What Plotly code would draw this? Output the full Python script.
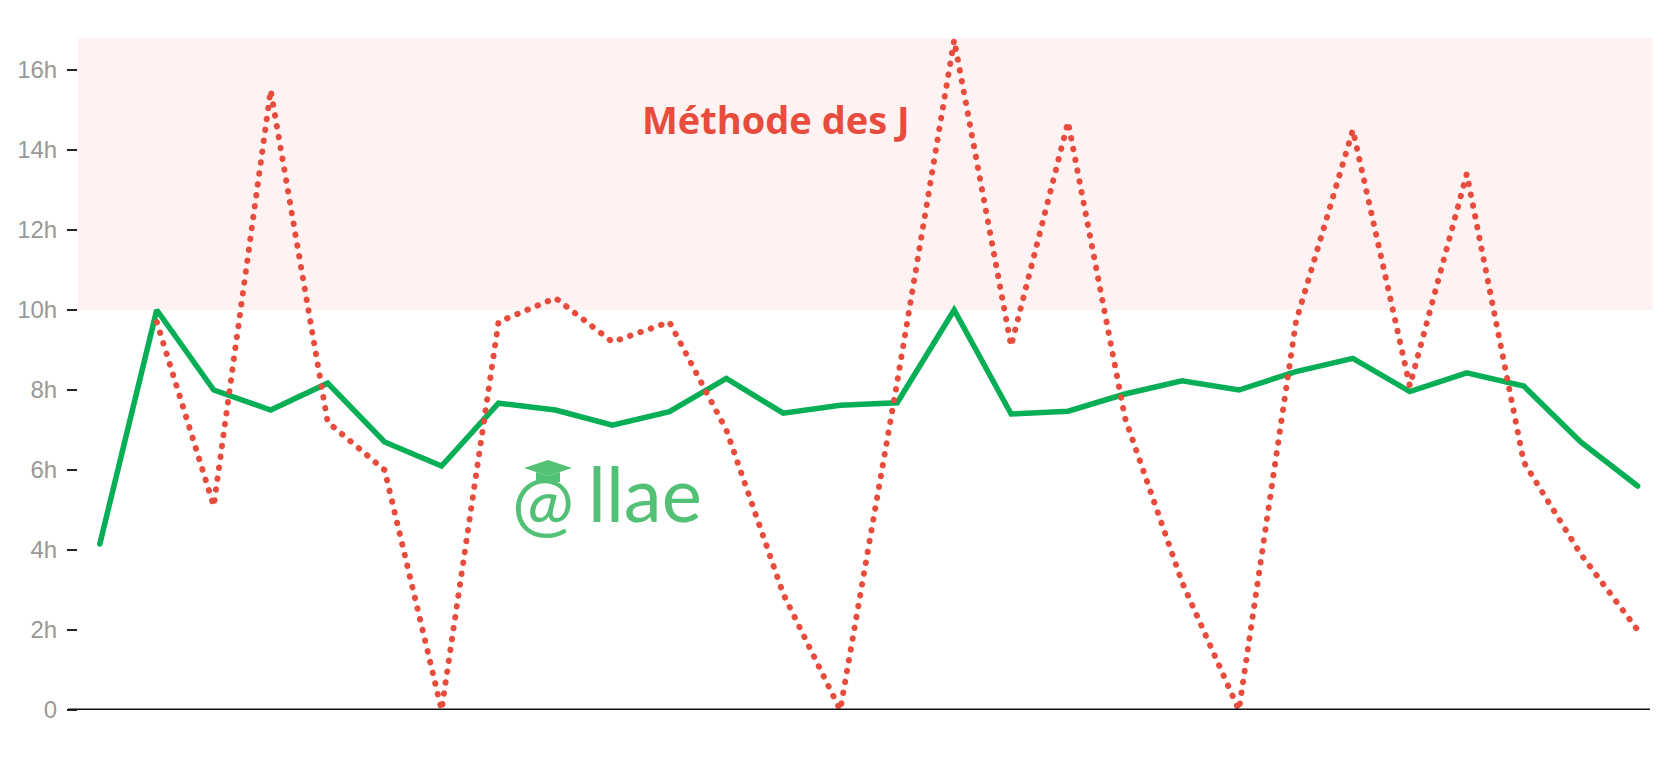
import plotly.graph_objects as go

# ---- data ----
days = [1, 2, 3, 4, 5, 6, 7, 8, 9, 10, 11, 12, 13, 14,
        15, 16, 17, 18, 19, 20, 21, 22, 23, 24, 25, 26, 27, 28]
sleep_hours = [4.15, 10.0, 8.0, 7.5, 8.17, 6.7, 6.1, 7.67, 7.5, 7.12, 7.46, 8.29, 7.42, 7.62,
               7.68, 10.0, 7.4, 7.47, 7.9, 8.23, 8.0, 8.46, 8.79, 7.96, 8.43, 8.1, 6.7, 5.6]
work_hours = [None, 9.7, 5.1, 15.5, 7.2, 6.0, 0.0, 9.7, 10.3, 9.2, 9.7, 7.0, 2.9, 0.0,
              8.2, 16.75, 9.1, 14.7, 7.3, 3.2, 0.0, 9.7, 14.5, 8.1, 13.4, 6.2, 3.9, 2.0]
y_ticks = [0, 2, 4, 6, 8, 10, 12, 14, 16]
y_tick_labels = ["0", "2h", "4h", "6h", "8h", "10h", "12h", "14h", "16h"]
band_low, band_high = 10, 16.8
title_text = "Méthode des J"

# ---- layout geometry (pixels) ----
W, H = 1664, 782
ML, MR, MT, MB = 78, 11, 38, 72
PW, PH = W - ML - MR, H - MT - MB


def px(x):
    return (x - ML) / PW


def py(y):
    return (H - MB - y) / PH


fig = go.Figure()
fig.add_trace(go.Scatter(
    x=days, y=sleep_hours, mode="lines",
    line=dict(color="#06ae55", width=5.5),
    hoverinfo="skip", showlegend=False))
fig.add_trace(go.Scatter(
    x=days, y=work_hours, mode="lines",
    line=dict(color="#e74c3c", width=6, dash="0.5px,10.5px"),
    hoverinfo="skip", showlegend=False, connectgaps=False))

shapes = [
    dict(type="rect", xref="paper", yref="y", x0=0, x1=1, y0=band_low, y1=band_high,
         fillcolor="#fff2f2", line=dict(width=0), layer="below"),
    dict(type="line", xref="paper", yref="y", x0=px(68), x1=px(1650), y0=0, y1=0,
         line=dict(color="#111111", width=3), layer="above"),
    # graduation cap of the logo
    dict(type="path", xref="paper", yref="paper",
         path=f"M {px(524)},{py(468)} L {px(548)},{py(460)} L {px(572)},{py(468)} "
              f"L {px(548)},{py(476)} Z",
         fillcolor="#52c175", line=dict(width=0), layer="above"),
    dict(type="path", xref="paper", yref="paper",
         path=f"M {px(536)},{py(472)} L {px(536)},{py(482)} L {px(560)},{py(482)} "
              f"L {px(560)},{py(472)} L {px(548)},{py(476)} Z",
         fillcolor="#52c175", line=dict(width=0), layer="above"),
]

annotations = [
    dict(text=f"<b>{title_text}</b>", xref="paper", yref="paper",
         x=px(775), y=py(119), xanchor="center", yanchor="middle", showarrow=False,
         font=dict(family="Open Sans", size=38, color="#e74c3c")),
    dict(text="@", xref="paper", yref="paper",
         x=px(543), y=py(500), xanchor="center", yanchor="middle", showarrow=False,
         font=dict(family="Lato", size=74, color="#52c175")),
    dict(text="llae", xref="paper", yref="paper",
         x=px(586), y=py(492), xanchor="left", yanchor="middle", showarrow=False,
         font=dict(family="Lato", size=76, color="#52c175")),
]

fig.update_layout(
    width=W, height=H,
    margin=dict(l=ML, r=MR, t=MT, b=MB, pad=0),
    paper_bgcolor="white", plot_bgcolor="white",
    shapes=shapes, annotations=annotations,
    xaxis=dict(range=[0.617, 28.27], showgrid=False, zeroline=False,
               showline=False, showticklabels=False, ticks=""),
    yaxis=dict(range=[0, band_high], tickvals=y_ticks, ticktext=y_tick_labels,
               showgrid=False, zeroline=False, showline=False,
               ticks="outside", ticklen=10, tickwidth=2, tickcolor="#222222",
               ticklabelstandoff=5,
               tickfont=dict(family="Liberation Sans", size=24, color="#999999")),
)

post = """
document.documentElement.style.margin='0';
document.body.style.margin='0';
document.body.style.padding='0';
function fixCaps(){
  document.querySelectorAll('.scatterlayer .js-line').forEach(function(e){
    e.style.strokeLinecap='round';
  });
}
fixCaps();
var gd = document.querySelector('.js-plotly-plot');
if (gd && gd.on) { gd.on('plotly_afterplot', fixCaps); }
"""

fig.write_html("out.html", post_script=post, config={"displayModeBar": False})
